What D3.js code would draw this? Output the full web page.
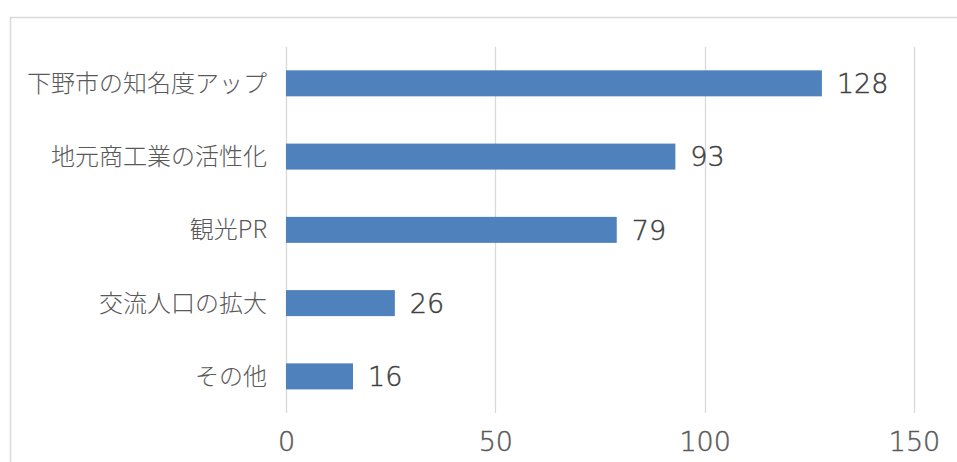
<!DOCTYPE html>
<html lang="ja">
<head>
<meta charset="utf-8">
<script src="https://cdn.jsdelivr.net/npm/d3@7"></script>
<style>
  html, body { margin: 0; padding: 0; background: #fff; }
  svg { display: block; }
  text { font-family: "Noto Sans CJK JP", "Noto Sans", sans-serif; fill: #595959; font-weight: 300; }
  text.num { font-family: "DejaVu Sans", sans-serif; font-weight: 200; fill: #404040; stroke: #404040; stroke-width: 0.45px; }
</style>
</head>
<body>
<svg id="chart" width="957" height="462"></svg>
<script>
// Categories (top to bottom) and their counts
const categories = ["下野市の知名度アップ", "地元商工業の活性化", "観光PR", "交流人口の拡大", "その他"];
const values = [128, 93, 79, 26, 16];
const xTicks = [0, 50, 100, 150];

const svg = d3.select("#chart");
const W = 957, H = 462;
const margin = { left: 286, right: W - 914, top: 46.7, bottom: H - 413 };

// Chart frame (extends past the visible window on the right and bottom)
svg.append("rect")
  .attr("x", 10.5).attr("y", 17.5)
  .attr("width", 1000).attr("height", 1000)
  .attr("fill", "none")
  .attr("stroke", "#d9d9d9")
  .attr("stroke-width", 1.5);

const x = d3.scaleLinear().domain([0, 150]).range([margin.left, W - margin.right]);
const y = d3.scaleBand().domain(categories)
  .range([margin.top, H - margin.bottom])
  .paddingInner(0.645).paddingOuter(0.3225);

// Vertical gridlines
svg.append("g").selectAll("line").data(xTicks).join("line")
  .attr("x1", d => Math.round(x(d)) + 0.5).attr("x2", d => Math.round(x(d)) + 0.5)
  .attr("y1", margin.top).attr("y2", H - margin.bottom)
  .attr("stroke", "#d9d9d9").attr("stroke-width", 1.3);

// Bars
svg.append("g").selectAll("rect").data(values).join("rect")
  .attr("x", x(0))
  .attr("y", (d, i) => y(categories[i]))
  .attr("width", d => x(d) - x(0))
  .attr("height", y.bandwidth())
  .attr("fill", "#4f81bd");

// Value labels
svg.append("g").selectAll("text").data(values).join("text")
  .attr("class", "num")
  .attr("x", d => x(d) + 15)
  .attr("y", (d, i) => y(categories[i]) + y.bandwidth() / 2)
  .attr("dy", "0.36em")
  .attr("font-size", 27)
  .text(d => d);

// Category axis labels
svg.append("g").selectAll("text").data(categories).join("text")
  .attr("x", margin.left - 19)
  .attr("y", d => y(d) + y.bandwidth() / 2)
  .attr("dy", "0.36em")
  .attr("text-anchor", "end")
  .attr("font-size", 24)
  .text(d => d);

// Value axis tick labels
const xAxis = d3.axisBottom(x).tickValues(xTicks).tickSize(0).tickPadding(0);
const gx = svg.append("g").attr("transform", `translate(0, ${H - margin.bottom})`).call(xAxis);
gx.select(".domain").remove();
gx.selectAll("text")
  .attr("class", "num")
  .attr("font-size", 27)
  .attr("y", 28)
  .attr("dy", "0.36em")
  .attr("fill", null)
  .style("fill", "#595959")
  .style("stroke", "#595959");
</script>
</body>
</html>
